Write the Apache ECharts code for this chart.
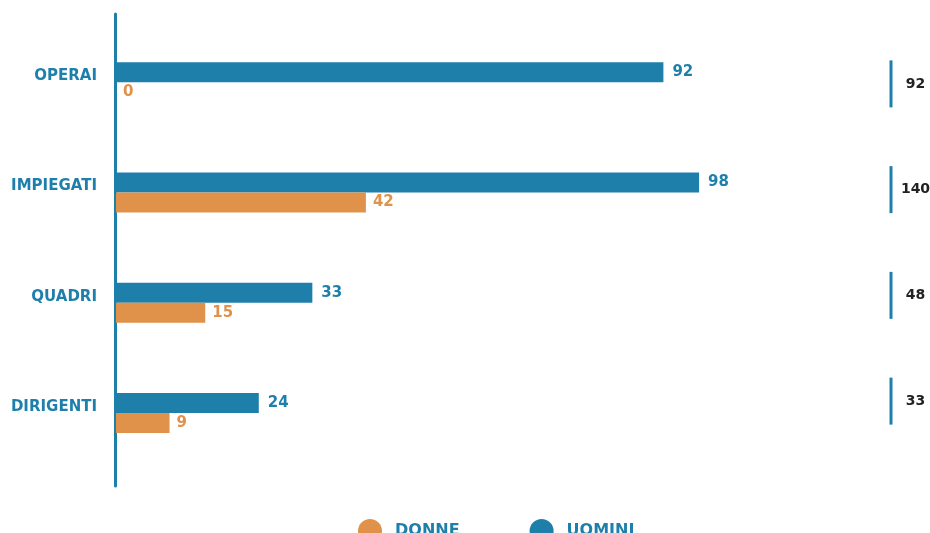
<!DOCTYPE html>
<html>
<head>
<meta charset="utf-8">
<script src="https://cdn.jsdelivr.net/npm/echarts@6/dist/echarts.min.js"></script>
<style>
html,body{margin:0;padding:0;background:#fff;}
#chart{width:930px;height:533px;}
</style>
</head>
<body>
<div id="chart"></div>
<script>
const categories = ['OPERAI', 'IMPIEGATI', 'QUADRI', 'DIRIGENTI'];
const uomini = [92, 98, 33, 24];
const donne = [0, 42, 15, 9];
const totals = [92, 140, 48, 33];

const BLUE = '#1f7fab';
const ORANGE = '#e0924a';
const FONT = '"DejaVu Sans", "Noto Sans", sans-serif';

const chart = echarts.init(document.getElementById('chart'));
chart.setOption({
  animation: false,
  backgroundColor: '#ffffff',
  textStyle: { fontFamily: FONT },
  grid: [
    { left: 116, width: 595, top: 27, bottom: 65 },
    { left: 891, width: 30, top: 31, bottom: 79 },
    { left: 115, width: 500, top: 14, bottom: 47 }
  ],
  legend: {
    data: ['DONNE', 'UOMINI'],
    left: 353,
    top: 514,
    icon: 'circle',
    itemWidth: 24,
    itemHeight: 24,
    itemGap: 70,
    textStyle: { color: BLUE, fontWeight: 'bold', fontSize: 16, fontFamily: FONT, padding: [0, 0, 0, 8] }
  },
  xAxis: [
    { gridIndex: 0, type: 'value', min: 0, max: 100, show: false },
    { gridIndex: 1, type: 'value', min: 0, max: 1, show: false },
    { gridIndex: 2, type: 'value', min: 0, max: 1, show: false }
  ],
  yAxis: [
    {
      gridIndex: 0, type: 'category', data: categories, inverse: true,
      axisLine: { show: false }, axisTick: { show: false }, splitLine: { show: false },
      axisLabel: { color: BLUE, fontWeight: 'bold', fontSize: 15, fontFamily: FONT, margin: 19,
        verticalAlign: 'bottom', lineHeight: 12 }
    },
    {
      gridIndex: 1, type: 'category', data: categories, inverse: true, show: false
    },
    {
      gridIndex: 2, type: 'value', min: 0, max: 1,
      axisLine: { show: true, lineStyle: { color: BLUE, width: 3 } },
      axisTick: { show: false }, axisLabel: { show: false }, splitLine: { show: false }
    }
  ],
  series: [
    {
      name: 'UOMINI', type: 'bar', xAxisIndex: 0, yAxisIndex: 0,
      data: uomini, barWidth: 20, barGap: '0%',
      itemStyle: { color: BLUE },
      label: { show: true, position: 'right', distance: 9, color: BLUE, fontWeight: 'bold', fontSize: 15, fontFamily: FONT }
    },
    {
      name: 'DONNE', type: 'bar', xAxisIndex: 0, yAxisIndex: 0,
      data: donne, barWidth: 20, barGap: '0%',
      itemStyle: { color: ORANGE },
      label: { show: true, position: 'right', distance: 7, color: ORANGE, fontWeight: 'bold', fontSize: 15, fontFamily: FONT }
    },
    {
      name: 'TOTALE', type: 'scatter', xAxisIndex: 1, yAxisIndex: 1,
      data: totals.map((t, i) => ({ value: [0, categories[i]] })),
      symbol: 'rect', symbolSize: [3, 47],
      itemStyle: { color: BLUE, opacity: 1 },
      emphasis: { disabled: true },
      label: {
        show: true, position: 'right', distance: 23, align: 'center',
        formatter: p => String(totals[p.dataIndex]),
        color: '#222222', fontWeight: 'bold', fontSize: 14, fontFamily: FONT
      },
      silent: true
    }
  ]
});
</script>
</body>
</html>
